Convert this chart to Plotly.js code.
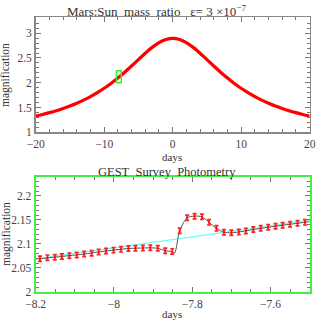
<!DOCTYPE html>
<html><head><meta charset="utf-8">
<script src="https://cdn.plot.ly/plotly-3.0.1.min.js"></script>
<style>html,body{margin:0;padding:0;background:#fff}#c{width:327px;height:327px}</style>
</head><body><div id="c"></div>
<script>
// Top panel: full light curve
const curveT = [-20,-19,-18,-17,-16,-15,-14,-13,-12,-11,-10,-9,-8,-7,-6,-5,-4,-3,-2,-1,0,1,2,3,4,5,6,7,8,9,10,11,12,13,14,15,16,17,18,19,20];
const curveA = [1.3285,1.3605,1.3963,1.4362,1.4810,1.5311,1.5872,1.6502,1.7208,1.8000,1.8883,1.9865,2.0947,2.2124,2.3379,2.4676,2.5958,2.7136,2.8103,2.8743,2.8970,2.8743,2.8103,2.7136,2.5958,2.4676,2.3379,2.2124,2.0947,1.9865,1.8883,1.8000,1.7208,1.6502,1.5872,1.5311,1.4810,1.4362,1.3963,1.3605,1.3285];
// Zoom window (shown as green box on top panel, and range of lower panel)
const zoomX = [-8.2, -7.5];
const zoomY = [2.0, 2.24];
// Bottom panel: photometry
const obsT = [-8.189,-8.170,-8.151,-8.133,-8.114,-8.095,-8.076,-8.057,-8.039,-8.020,-8.001,-7.982,-7.963,-7.945,-7.926,-7.907,-7.888,-7.869,-7.851,-7.832,-7.813,-7.794,-7.775,-7.757,-7.738,-7.719,-7.700,-7.681,-7.663,-7.644,-7.625,-7.606,-7.587,-7.569,-7.550,-7.531,-7.512];
const obsA = [2.0694,2.0715,2.0725,2.0738,2.0757,2.0772,2.0790,2.0806,2.0835,2.0855,2.0872,2.0888,2.0905,2.0912,2.0917,2.0920,2.0910,2.0860,2.0845,2.1275,2.1545,2.1578,2.1565,2.1450,2.1325,2.1245,2.1232,2.1250,2.1272,2.1300,2.1325,2.1347,2.1370,2.1390,2.1410,2.1430,2.1450];
const obsErr = 0.0055;
// planetary model (gray) and single-lens model (cyan)
const modelT = [-8.2,-8.189,-8.151,-8.114,-8.076,-8.039,-8.001,-7.963,-7.926,-7.907,-7.888,-7.869,-7.851,-7.845,-7.832,-7.813,-7.794,-7.775,-7.757,-7.738,-7.719,-7.700,-7.681,-7.644,-7.606,-7.569,-7.531,-7.5];
const modelA = [2.0690,2.0694,2.0725,2.0757,2.0790,2.0835,2.0872,2.0905,2.0917,2.0920,2.0910,2.0860,2.0840,2.0815,2.1275,2.1545,2.1580,2.1565,2.1450,2.1325,2.1245,2.1232,2.1250,2.1300,2.1347,2.1390,2.1430,2.1465];
const pointT = [-8.2,-8.1,-8.0,-7.9,-7.8,-7.7,-7.6,-7.5];
const pointA = [2.0690,2.0805,2.0920,2.1030,2.1145,2.1260,2.1380,2.1490];

const serif = 'Liberation Serif, Times New Roman, serif';
const txt = '#333';
const tickCol = '#777';

const traces = [
  {x: curveT, y: curveA, xaxis:'x', yaxis:'y', mode:'lines', line:{color:'#ff0000', width:3.2, shape:'spline'}, hoverinfo:'skip'},
  {x: pointT, y: pointA, xaxis:'x2', yaxis:'y2', mode:'lines', line:{color:'#66ffff', width:1.3}, hoverinfo:'skip'},
  {x: modelT, y: modelA, xaxis:'x2', yaxis:'y2', mode:'lines', line:{color:'#555555', width:1, shape:'spline', smoothing:0.8}, hoverinfo:'skip'},
  {x: obsT, y: obsA, xaxis:'x2', yaxis:'y2', mode:'markers', marker:{color:'#ff0000', size:2},
   error_y:{type:'constant', value: obsErr, color:'#ff2020', thickness:1.7, width:2}, hoverinfo:'skip'}
];

function ax(extra){
  return Object.assign({
    showgrid:false, zeroline:false, showline:true, mirror:'ticks',
    ticks:'inside', ticklen:5, tickwidth:1, tickcolor:tickCol,
    linecolor:'#888', linewidth:1.5,
    tickfont:{family:serif, size:11.5, color:'#444'}
  }, extra);
}

const tf = {family:serif, size:11, color:txt};
const layout = {
  width:327, height:327, margin:{l:0,r:0,t:0,b:0},
  paper_bgcolor:'#fff', plot_bgcolor:'#fff', showlegend:false,
  xaxis: ax({domain:[0.109,0.947], anchor:'y', range:[-20,20], dtick:10, tick0:0,
    minor:{dtick:2, ticks:'inside', ticklen:3, tickcolor:tickCol}}),
  yaxis: ax({domain:[0.5954,0.947], anchor:'x', range:[1,3.32], dtick:0.5, tick0:1,
    minor:{dtick:0.1, ticks:'inside', ticklen:3, tickcolor:tickCol}}),
  xaxis2: ax({domain:[0.109,0.947], anchor:'y2', range:zoomX, dtick:0.2, tick0:-8.2,
    linecolor:'#44ee44', linewidth:2,
    minor:{dtick:0.05, ticks:'inside', ticklen:3, tickcolor:tickCol}}),
  yaxis2: ax({domain:[0.107,0.4596], anchor:'x2', range:zoomY, dtick:0.05, tick0:2,
    linecolor:'#44ee44', linewidth:2,
    minor:{dtick:0.01, ticks:'inside', ticklen:3, tickcolor:tickCol}}),
  shapes:[{type:'rect', xref:'x', yref:'y', x0:zoomX[0], x1:zoomX[1], y0:zoomY[0], y1:zoomY[1],
    line:{color:'#33ee33', width:1.5}, fillcolor:'rgba(0,0,0,0)'}],
  annotations:[
    {text:'Mars:Sun&nbsp; mass&nbsp; ratio&nbsp;&nbsp; ε= 3 ×10<sup>−7</sup>', xref:'paper', yref:'paper', x:0.48, y:1-11/327,
     showarrow:false, font:{family:serif, size:13, color:txt}, yanchor:'middle'},
    {text:'GEST&nbsp; Survey&nbsp; Photometry', xref:'paper', yref:'paper', x:0.512, y:1-171.5/327,
     showarrow:false, font:{family:serif, size:12.5, color:txt}, yanchor:'middle', borderpad:0},
    {text:'days', xref:'paper', yref:'paper', x:172/327, y:1-156.5/327, showarrow:false, font:tf, yanchor:'middle', borderpad:0},
    {text:'days', xref:'paper', yref:'paper', x:172/327, y:1-314/327, showarrow:false, font:tf, yanchor:'middle', borderpad:0},
    {text:'magnification', xref:'paper', yref:'paper', x:6/327, y:1-75/327, textangle:-90, showarrow:false, font:{family:serif, size:11.5, color:txt}, xanchor:'center', yanchor:'middle'},
    {text:'magnification', xref:'paper', yref:'paper', x:6/327, y:1-234/327, textangle:-90, showarrow:false, font:{family:serif, size:11.5, color:txt}, xanchor:'center', yanchor:'middle'}
  ]
};
Plotly.newPlot('c', traces, layout, {staticPlot:true, displayModeBar:false});
</script></body></html>
